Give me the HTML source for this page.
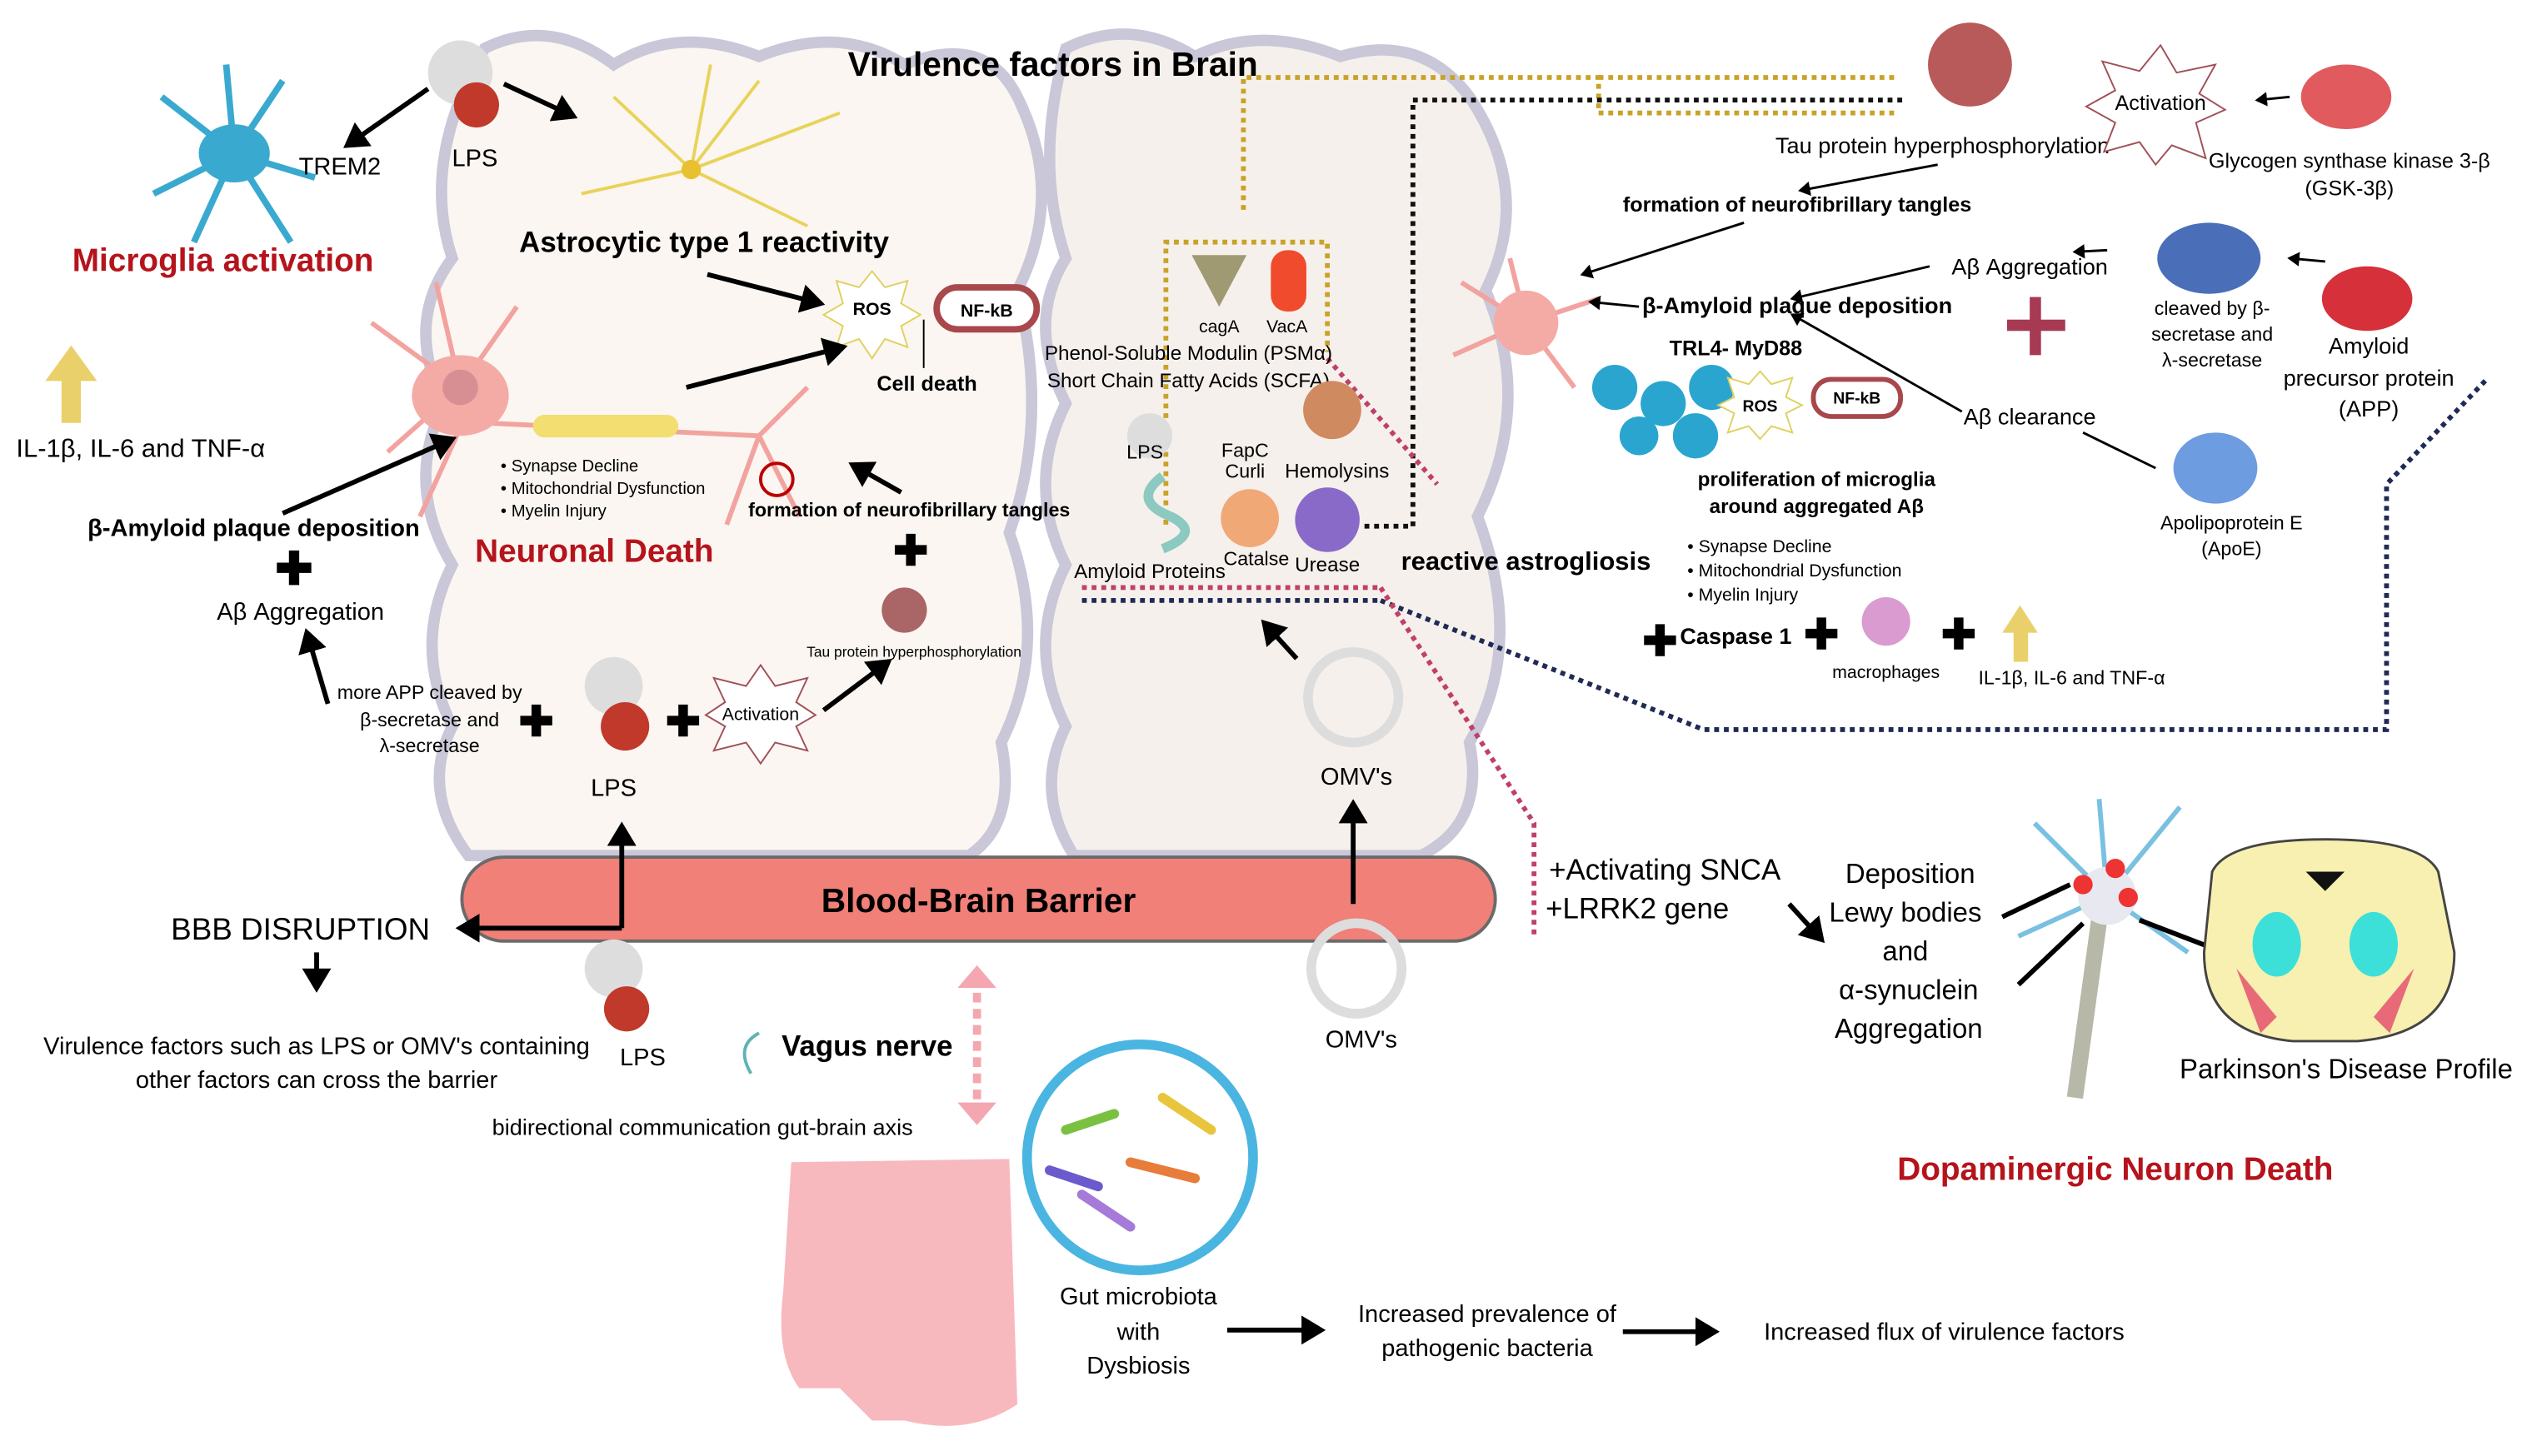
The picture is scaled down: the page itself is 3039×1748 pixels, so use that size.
<!DOCTYPE html>
<html><head><meta charset="utf-8"><style>
html,body{margin:0;padding:0;background:#fff;}
svg{display:block;}
text{font-family:"Liberation Sans",sans-serif;}
.b{font-weight:bold;}
.red{fill:#b5141c;font-weight:bold;}
</style></head><body>
<svg width="3039" height="1748" viewBox="0 0 1568 902" xmlns="http://www.w3.org/2000/svg">
<defs>
<marker id="ah" markerWidth="6" markerHeight="6" refX="4" refY="3" orient="auto" markerUnits="strokeWidth"><path d="M0,0 L5,3 L0,6 z" fill="#000"/></marker>
</defs>
<rect width="1568" height="902" fill="#fff"/>
<!-- brains -->
<path d="M300,30 Q340,10 380,40 Q420,15 470,35 Q520,15 560,40 Q610,20 630,60 Q660,120 630,180 Q650,260 625,330 Q650,400 620,460 Q630,510 600,530 L290,530 Q260,490 280,450 Q255,400 280,350 Q250,300 275,250 Q250,200 280,160 Q260,100 300,30 z" fill="#fbf6f1" stroke="#c9c7d8" stroke-width="7"/>
<path d="M660,30 Q700,10 740,35 Q780,15 830,35 Q880,20 910,60 Q950,120 920,180 Q950,250 915,320 Q945,400 910,460 Q920,510 880,530 L665,530 Q640,490 660,450 Q635,400 660,350 Q635,300 660,250 Q635,200 660,160 Q640,100 660,30 z" fill="#f6f0ec" stroke="#c9c7d8" stroke-width="7"/>
<!-- BBB -->
<rect x="286" y="531" width="640" height="52" rx="26" fill="#f08078" stroke="#6a6a6a" stroke-width="2"/>
<text x="606" y="565" font-size="21" class="b" text-anchor="middle">Blood-Brain Barrier</text>
<!-- titles -->
<text x="652" y="47" font-size="21" class="b" text-anchor="middle">Virulence factors in Brain</text>
<text x="138" y="168" font-size="20" class="red" text-anchor="middle">Microglia activation</text>
<text x="368" y="348" font-size="20" class="red" text-anchor="middle">Neuronal Death</text>
<text x="1310" y="731" font-size="20" class="red" text-anchor="middle">Dopaminergic Neuron Death</text>
<text x="436" y="156" font-size="18" class="b" text-anchor="middle">Astrocytic type 1 reactivity</text>
<!-- microglia cell -->
<g stroke="#3aa9cf" stroke-width="4" fill="none"><path d="M145,95 L100,60 M145,95 L95,120 M145,95 L120,150 M145,95 L180,150 M145,95 L195,110 M145,95 L175,50 M145,95 L140,40"/></g>
<ellipse cx="145" cy="95" rx="22" ry="18" fill="#3aa9cf"/>
<text x="185" y="108" font-size="15">TREM2</text>
<!-- LPS top -->
<circle cx="285" cy="45" r="20" fill="#ddd"/><circle cx="295" cy="65" r="14" fill="#c0392b"/>
<text x="294" y="103" font-size="15" text-anchor="middle">LPS</text>
<line x1="265" y1="55" x2="215" y2="90" stroke="#000" stroke-width="3" marker-end="url(#ah)"/>
<line x1="312" y1="52" x2="355" y2="72" stroke="#000" stroke-width="3" marker-end="url(#ah)"/>
<!-- astrocyte -->
<g stroke="#e8d35a" stroke-width="2" fill="none"><path d="M428,105 L380,60 M428,105 L470,50 M428,105 L520,70 M428,105 L360,120 M428,105 L500,140 M428,105 L440,40"/></g>
<circle cx="428" cy="105" r="6" fill="#e8c030"/>
<!-- ROS / NFkB -->
<polygon points="540,168 548,178 562,174 558,188 570,195 558,202 562,215 548,210 540,222 532,210 518,215 522,202 510,195 522,188 518,174 532,178" fill="#fff" stroke="#e0d060"/>
<text x="540" y="195" font-size="11" class="b" text-anchor="middle">ROS</text>
<rect x="580" y="178" width="62" height="26" rx="13" fill="#fff" stroke="#a8484c" stroke-width="4"/>
<text x="611" y="196" font-size="11" class="b" text-anchor="middle">NF-kB</text>
<line x1="572" y1="198" x2="572" y2="228" stroke="#000"/>
<text x="574" y="242" font-size="13" class="b" text-anchor="middle">Cell death</text>
<line x1="438" y1="170" x2="508" y2="188" stroke="#000" stroke-width="3" marker-end="url(#ah)"/>
<line x1="425" y1="240" x2="522" y2="215" stroke="#000" stroke-width="3" marker-end="url(#ah)"/>
<!-- neuron -->
<g stroke="#f2a3a0" stroke-width="3" fill="none"><path d="M285,240 L230,200 M285,240 L240,280 M285,240 L270,175 M285,240 L320,190 M285,265 L260,320 M300,262 L470,270 M470,270 L500,240 M470,270 L495,320 M470,270 L450,325"/></g>
<ellipse cx="285" cy="245" rx="30" ry="25" fill="#f4aba5"/><circle cx="285" cy="240" r="11" fill="#d88f93"/>
<rect x="330" y="257" width="90" height="14" rx="7" fill="#f3de71"/>
<text x="230" y="284" font-size="12" text-anchor="middle"></text>
<g font-size="10.5"><text x="310" y="292">•  Synapse Decline</text><text x="310" y="306">•  Mitochondrial Dysfunction</text><text x="310" y="320">•  Myelin Injury</text></g>
<circle cx="481" cy="297" r="10" fill="none" stroke="#b00" stroke-width="2"/>
<text x="563" y="320" font-size="12" class="b" text-anchor="middle">formation of neurofibrillary tangles</text>
<line x1="558" y1="305" x2="528" y2="288" stroke="#000" stroke-width="3" marker-end="url(#ah)"/>
<!-- left -->
<rect x="38" y="232" width="12" height="30" fill="#ead06a"/><polygon points="28,236 44,214 60,236" fill="#ead06a"/>
<text x="87" y="283" font-size="16" text-anchor="middle">IL-1β, IL-6 and TNF-α</text>
<text x="157" y="332" font-size="15" class="b" text-anchor="middle">β-Amyloid plaque deposition</text>
<line x1="175" y1="318" x2="280" y2="272" stroke="#000" stroke-width="3" marker-end="url(#ah)"/>
<text x="182" y="362" font-size="28" class="b" text-anchor="middle">✚</text>
<text x="186" y="384" font-size="15" text-anchor="middle">Aβ Aggregation</text>
<line x1="203" y1="436" x2="190" y2="392" stroke="#000" stroke-width="3" marker-end="url(#ah)"/>
<g font-size="12" text-anchor="middle"><text x="266" y="433">more APP cleaved by</text><text x="266" y="450">β-secretase and</text><text x="266" y="466">λ-secretase</text></g>
<text x="332" y="456" font-size="26" class="b" text-anchor="middle">✚</text>
<circle cx="380" cy="425" r="18" fill="#ddd"/><circle cx="387" cy="450" r="15" fill="#c0392b"/>
<text x="380" y="493" font-size="15" text-anchor="middle">LPS</text>
<text x="423" y="456" font-size="26" class="b" text-anchor="middle">✚</text>
<polygon points="471,412 480,425 500,420 493,435 505,443 493,450 500,465 480,460 471,473 462,460 442,465 449,450 437,443 449,435 442,420 462,425" fill="#fff" stroke="#a05058"/>
<text x="471" y="446" font-size="11" text-anchor="middle">Activation</text>
<line x1="510" y1="440" x2="550" y2="410" stroke="#000" stroke-width="3" marker-end="url(#ah)"/>
<text x="564" y="350" font-size="26" class="b" text-anchor="middle">✚</text>
<circle cx="560" cy="378" r="14" fill="#a66"/>
<text x="566" y="407" font-size="9" text-anchor="middle">Tau protein hyperphosphorylation</text>
<line x1="385" y1="575" x2="385" y2="512" stroke="#000" stroke-width="3" marker-end="url(#ah)"/>
<polyline points="385,575 285,575" fill="none" stroke="#000" stroke-width="3" marker-end="url(#ah)"/>
<text x="186" y="582" font-size="19" text-anchor="middle">BBB DISRUPTION</text>
<line x1="196" y1="590" x2="196" y2="612" stroke="#000" stroke-width="3" marker-end="url(#ah)"/>
<g font-size="15" text-anchor="middle"><text x="196" y="653">Virulence factors such as LPS or OMV's containing</text><text x="196" y="674">other factors can cross the barrier</text></g>
<circle cx="380" cy="600" r="18" fill="#ddd"/><circle cx="388" cy="625" r="14" fill="#c0392b"/>
<text x="398" y="660" font-size="15" text-anchor="middle">LPS</text>
<!-- vagus -->
<text x="537" y="654" font-size="18" class="b" text-anchor="middle">Vagus nerve</text>
<path d="M465,665 Q455,648 470,640" fill="none" stroke="#5fb3b3" stroke-width="2"/>
<text x="435" y="703" font-size="14" text-anchor="middle">bidirectional communication gut-brain axis</text>
<line x1="605" y1="605" x2="605" y2="690" stroke="#f4a7b0" stroke-width="5" stroke-dasharray="6,4"/>
<polygon points="593,612 605,598 617,612" fill="#f4a7b0"/><polygon points="593,683 605,697 617,683" fill="#f4a7b0"/>
<!-- gut -->
<path d="M490,720 L625,718 L630,870 Q600,890 560,880 L540,880 L520,860 L495,860 Q480,840 485,800 Z" fill="#f8b9be"/>
<circle cx="706" cy="717" r="70" fill="#fff" stroke="#4ab5e0" stroke-width="6"/>
<g stroke-width="6" stroke-linecap="round"><line x1="660" y1="700" x2="690" y2="690" stroke="#7ac142"/><line x1="700" y1="720" x2="740" y2="730" stroke="#e87c3a"/><line x1="670" y1="740" x2="700" y2="760" stroke="#a57ad8"/><line x1="720" y1="680" x2="750" y2="700" stroke="#e8c53a"/><line x1="650" y1="725" x2="680" y2="735" stroke="#6a5acd"/></g>
<g font-size="15" text-anchor="middle"><text x="705" y="808">Gut microbiota</text><text x="705" y="830">with</text><text x="705" y="851">Dysbiosis</text></g>
<line x1="760" y1="824" x2="818" y2="824" stroke="#000" stroke-width="3" marker-end="url(#ah)"/>
<g font-size="15" text-anchor="middle"><text x="921" y="819">Increased prevalence of</text><text x="921" y="840">pathogenic bacteria</text></g>
<line x1="1005" y1="825" x2="1062" y2="825" stroke="#000" stroke-width="3" marker-end="url(#ah)"/>
<text x="1204" y="830" font-size="15" text-anchor="middle">Increased flux of virulence factors</text>
<!-- OMVs -->
<circle cx="838" cy="432" r="28" fill="none" stroke="#ddd" stroke-width="6"/>
<text x="840" y="486" font-size="15" text-anchor="middle">OMV's</text>
<line x1="838" y1="560" x2="838" y2="498" stroke="#000" stroke-width="3" marker-end="url(#ah)"/>
<circle cx="840" cy="600" r="28" fill="none" stroke="#ddd" stroke-width="6"/>
<text x="843" y="649" font-size="15" text-anchor="middle">OMV's</text>
<line x1="803" y1="408" x2="783" y2="386" stroke="#000" stroke-width="3" marker-end="url(#ah)"/>
<!-- virulence box -->
<polyline points="722,325 722,150 822,150 822,218" fill="none" stroke="#c9a227" stroke-width="3" stroke-dasharray="3,3"/>
<polyline points="770,130 770,48 990,48 990,70 1175,70" fill="none" stroke="#c9a227" stroke-width="3" stroke-dasharray="3,3"/>
<polyline points="990,48 1175,48" fill="none" stroke="#c9a227" stroke-width="3" stroke-dasharray="3,3"/>
<polyline points="845,326 875,326 875,62 1178,62" fill="none" stroke="#111" stroke-width="3" stroke-dasharray="3,3"/>
<line x1="670" y1="364" x2="855" y2="364" stroke="#c0406a" stroke-width="3" stroke-dasharray="3,3"/>
<line x1="670" y1="372" x2="855" y2="372" stroke="#1f2a55" stroke-width="3" stroke-dasharray="3,3"/>
<polyline points="855,372 1055,452 1478,452 1478,300 1540,235" fill="none" stroke="#1f2a55" stroke-width="3" stroke-dasharray="3,3"/>
<polyline points="855,364 950,510 950,580" fill="none" stroke="#c0406a" stroke-width="3" stroke-dasharray="3,3"/>
<line x1="822" y1="222" x2="890" y2="300" stroke="#c0406a" stroke-width="3" stroke-dasharray="3,3"/>
<polygon points="738,158 772,158 755,190" fill="#a09a72"/>
<rect x="787" y="155" width="22" height="38" rx="10" fill="#f04b2c"/>
<text x="755" y="206" font-size="11" text-anchor="middle">cagA</text><text x="797" y="206" font-size="11" text-anchor="middle">VacA</text>
<text x="736" y="223" font-size="12.5" text-anchor="middle">Phenol-Soluble Modulin (PSMα)</text>
<text x="736" y="240" font-size="12.5" text-anchor="middle">Short Chain Fatty Acids (SCFA)</text>
<circle cx="712" cy="270" r="14" fill="#ddd"/><text x="709" y="284" font-size="12" text-anchor="middle">LPS</text>
<path d="M720,295 Q700,310 725,320 Q745,330 720,340" fill="none" stroke="#8cc9c0" stroke-width="6"/>
<text x="712" y="358" font-size="12.5" text-anchor="middle">Amyloid Proteins</text>
<text x="771" y="283" font-size="12" text-anchor="middle">FapC</text><text x="771" y="296" font-size="12" text-anchor="middle">Curli</text>
<circle cx="774" cy="321" r="18" fill="#f1a877"/>
<text x="778" y="350" font-size="12" text-anchor="middle">Catalse</text>
<circle cx="825" cy="254" r="18" fill="#d08a60"/>
<text x="828" y="296" font-size="12.5" text-anchor="middle">Hemolysins</text>
<circle cx="822" cy="322" r="20" fill="#8a6ac9"/>
<text x="822" y="354" font-size="12.5" text-anchor="middle">Urease</text>
<text x="945" y="353" font-size="16" class="b" text-anchor="middle">reactive astrogliosis</text>
<!-- right side -->
<circle cx="1220" cy="40" r="26" fill="#b85a5a"/>
<text x="1203" y="95" font-size="14" text-anchor="middle">Tau protein hyperphosphorylation</text>
<polygon points="1338,28 1348,45 1372,40 1362,58 1378,68 1360,76 1366,98 1345,90 1335,102 1325,88 1303,94 1310,76 1292,66 1310,56 1302,38 1325,44" fill="#fff" stroke="#a05058"/>
<text x="1338" y="68" font-size="13" text-anchor="middle">Activation</text>
<line x1="1418" y1="60" x2="1398" y2="62" stroke="#000" stroke-width="1.5" marker-end="url(#ah)"/>
<ellipse cx="1453" cy="60" rx="28" ry="20" fill="#e05a5e"/>
<text x="1455" y="104" font-size="13" text-anchor="middle">Glycogen synthase kinase 3-β</text>
<text x="1455" y="121" font-size="13" text-anchor="middle">(GSK-3β)</text>
<line x1="1200" y1="102" x2="1115" y2="118" stroke="#000" stroke-width="1.5" marker-end="url(#ah)"/>
<text x="1113" y="131" font-size="13" class="b" text-anchor="middle">formation of neurofibrillary tangles</text>
<line x1="1080" y1="138" x2="980" y2="170" stroke="#000" stroke-width="1.5" marker-end="url(#ah)"/>
<g stroke="#f2a3a0" stroke-width="3" fill="none"><path d="M945,200 L905,175 M945,200 L900,220 M945,200 L935,160 M945,200 L990,185 M945,200 L975,240"/></g>
<circle cx="945" cy="200" r="20" fill="#f4aba5"/>
<text x="1113" y="194" font-size="14" class="b" text-anchor="middle">β-Amyloid plaque deposition</text>
<line x1="1015" y1="190" x2="985" y2="187" stroke="#000" stroke-width="1.5" marker-end="url(#ah)"/>
<text x="1257" y="170" font-size="14" text-anchor="middle">Aβ Aggregation</text>
<line x1="1195" y1="165" x2="1110" y2="185" stroke="#000" stroke-width="1.5" marker-end="url(#ah)"/>
<line x1="1305" y1="155" x2="1285" y2="156" stroke="#000" stroke-width="1.5" marker-end="url(#ah)"/>
<ellipse cx="1368" cy="160" rx="32" ry="22" fill="#4a6fb8"/>
<line x1="1440" y1="162" x2="1418" y2="160" stroke="#000" stroke-width="1.5" marker-end="url(#ah)"/>
<g font-size="12" text-anchor="middle"><text x="1370" y="195">cleaved by β-</text><text x="1370" y="211">secretase and</text><text x="1370" y="227">λ-secretase</text></g>
<ellipse cx="1466" cy="185" rx="28" ry="20" fill="#d6303a"/>
<g font-size="14" text-anchor="middle"><text x="1467" y="219">Amyloid</text><text x="1467" y="239">precursor protein</text><text x="1467" y="258">(APP)</text></g>
<rect x="1243" y="198" width="36" height="7" fill="#a63a52"/><rect x="1257" y="184" width="7" height="36" fill="#a63a52"/>
<text x="1257" y="263" font-size="14" text-anchor="middle">Aβ clearance</text>
<line x1="1215" y1="255" x2="1110" y2="195" stroke="#000" stroke-width="1.5" marker-end="url(#ah)"/>
<line x1="1335" y1="290" x2="1290" y2="268" stroke="#000" stroke-width="1.5"/>
<ellipse cx="1372" cy="290" rx="26" ry="22" fill="#6d9ce0"/>
<text x="1382" y="328" font-size="12" text-anchor="middle">Apolipoprotein E</text><text x="1382" y="344" font-size="12" text-anchor="middle">(ApoE)</text>
<text x="1075" y="220" font-size="13" class="b" text-anchor="middle">TRL4- MyD88</text>
<g fill="#2aa5d0"><circle cx="1000" cy="240" r="14"/><circle cx="1030" cy="250" r="14"/><circle cx="1060" cy="240" r="14"/><circle cx="1050" cy="270" r="14"/><circle cx="1015" cy="270" r="12"/></g>
<polygon points="1090,230 1097,238 1110,234 1106,246 1116,251 1106,256 1110,268 1097,264 1090,272 1083,264 1070,268 1074,256 1064,251 1074,246 1070,234 1083,238" fill="#fff" stroke="#e0d060"/>
<text x="1090" y="255" font-size="10" class="b" text-anchor="middle">ROS</text>
<rect x="1123" y="235" width="54" height="23" rx="11" fill="#fff" stroke="#a8484c" stroke-width="3"/>
<text x="1150" y="250" font-size="10" class="b" text-anchor="middle">NF-kB</text>
<text x="1125" y="301" font-size="12.5" class="b" text-anchor="middle">proliferation of microglia</text>
<text x="1125" y="318" font-size="12.5" class="b" text-anchor="middle">around aggregated Aβ</text>
<g font-size="11"><text x="1045" y="342">•  Synapse Decline</text><text x="1045" y="357">•  Mitochondrial Dysfunction</text><text x="1045" y="372">•  Myelin Injury</text></g>
<text x="1028" y="406" font-size="26" class="b" text-anchor="middle">✚</text>
<text x="1075" y="399" font-size="14" class="b" text-anchor="middle">Caspase 1</text>
<text x="1128" y="402" font-size="26" class="b" text-anchor="middle">✚</text>
<circle cx="1168" cy="385" r="15" fill="#d99bd0"/>
<text x="1168" y="420" font-size="11" text-anchor="middle">macrophages</text>
<text x="1213" y="402" font-size="26" class="b" text-anchor="middle">✚</text>
<rect x="1247" y="390" width="9" height="20" fill="#ead06a"/><polygon points="1240,392 1251,375 1262,392" fill="#ead06a"/>
<text x="1283" y="424" font-size="12" text-anchor="middle">IL-1β, IL-6 and TNF-α</text>
<!-- PD -->
<text x="1031" y="545" font-size="18" text-anchor="middle">+Activating SNCA</text>
<text x="1014" y="569" font-size="18" text-anchor="middle">+LRRK2 gene</text>
<line x1="1108" y1="560" x2="1128" y2="582" stroke="#000" stroke-width="3" marker-end="url(#ah)"/>
<g font-size="17" text-anchor="middle"><text x="1183" y="547">Deposition</text><text x="1180" y="571">Lewy bodies</text><text x="1180" y="595">and</text><text x="1182" y="619">α-synuclein</text><text x="1182" y="643">Aggregation</text></g>
<g stroke="#7ac0e0" stroke-width="3" fill="none"><path d="M1305,555 L1260,510 M1305,555 L1350,500 M1305,555 L1300,495 M1305,555 L1250,580 M1305,555 L1355,590"/></g>
<line x1="1300" y1="570" x2="1285" y2="680" stroke="#b8b8a8" stroke-width="10"/>
<circle cx="1305" cy="555" r="18" fill="#e8e8f0"/><circle cx="1290" cy="548" r="6" fill="#e33"/><circle cx="1318" cy="556" r="6" fill="#e33"/><circle cx="1310" cy="538" r="6" fill="#e33"/>
<line x1="1240" y1="568" x2="1282" y2="548" stroke="#000" stroke-width="3"/>
<line x1="1250" y1="610" x2="1290" y2="572" stroke="#000" stroke-width="3"/>
<line x1="1325" y1="570" x2="1398" y2="598" stroke="#000" stroke-width="3" marker-end="url(#ah)"/>
<path d="M1370,540 Q1380,520 1440,520 Q1500,520 1510,540 L1520,590 Q1520,640 1460,645 L1420,645 Q1365,640 1365,590 Z" fill="#f7f0b0" stroke="#444" stroke-width="1.5"/>
<polygon points="1428,540 1452,540 1440,552" fill="#111"/>
<ellipse cx="1410" cy="585" rx="15" ry="20" fill="#3de0d8"/><ellipse cx="1470" cy="585" rx="15" ry="20" fill="#3de0d8"/>
<path d="M1385,600 L1410,630 L1400,640 Z" fill="#e86a78"/><path d="M1495,600 L1470,630 L1480,640 Z" fill="#e86a78"/>
<text x="1453" y="668" font-size="17" text-anchor="middle">Parkinson's Disease Profile</text>
</svg>
</body></html>
